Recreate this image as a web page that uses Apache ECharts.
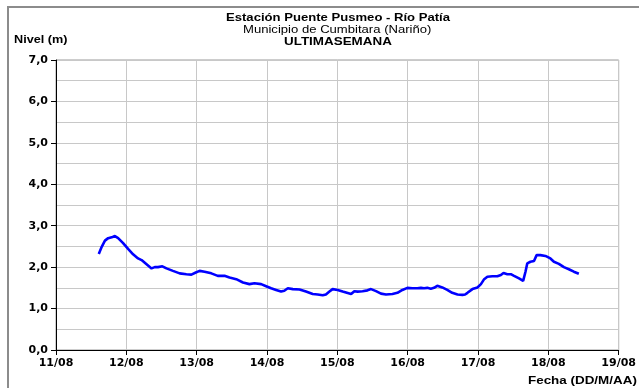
<!DOCTYPE html>
<html>
<head>
<meta charset="utf-8">
<script src="https://cdn.jsdelivr.net/npm/echarts@6/dist/echarts.min.js"></script>
<style>
  html, body { margin: 0; padding: 0; background: #fff; }
  #chart { width: 639px; height: 388px; }
</style>
</head>
<body>
<div id="chart"></div>
<script>
// Hourly-ish river level readings, Puente Pusmeo station (DD/MM HH:MM)
const times = [
  '11/08 14:36','11/08 15:36','11/08 16:42','11/08 17:48','11/08 19:18','11/08 20:06','11/08 21:12','11/08 22:54',
  '12/08 00:36','12/08 02:18','12/08 04:00','12/08 05:12','12/08 06:54','12/08 08:36','12/08 09:42','12/08 10:48',
  '12/08 12:18','12/08 13:42','12/08 15:54','12/08 18:12','12/08 20:30','12/08 22:12','12/08 23:42',
  '13/08 01:00','13/08 02:42','13/08 05:00','13/08 07:12','13/08 09:30','13/08 11:12','13/08 13:30','13/08 15:48',
  '13/08 18:00','13/08 19:42','13/08 22:00','13/08 23:42',
  '14/08 01:24','14/08 03:06','14/08 04:48','14/08 05:54','14/08 07:06','14/08 08:48','14/08 11:06','14/08 13:18',
  '14/08 15:36','14/08 17:18','14/08 19:00','14/08 20:06','14/08 21:18','14/08 22:24',
  '15/08 00:06','15/08 01:48','15/08 04:42','15/08 05:48','15/08 06:54','15/08 08:36','15/08 10:18','15/08 11:30',
  '15/08 13:12','15/08 14:54','15/08 16:36','15/08 18:48','15/08 20:30','15/08 22:12','15/08 23:54',
  '16/08 01:36','16/08 03:18','16/08 04:30','16/08 05:36','16/08 06:42','16/08 07:54','16/08 09:00','16/08 10:06',
  '16/08 11:48','16/08 13:30','16/08 15:12','16/08 17:00','16/08 18:42','16/08 19:36','16/08 20:24','16/08 22:06','16/08 23:48',
  '17/08 01:00','17/08 02:06','17/08 03:12','17/08 04:54','17/08 06:36','17/08 07:48','17/08 08:42','17/08 10:00',
  '17/08 11:12','17/08 12:18','17/08 14:00','17/08 15:24','17/08 16:12','17/08 16:48','17/08 17:54','17/08 19:06',
  '17/08 20:00','17/08 21:18','17/08 23:00',
  '18/08 00:42','18/08 01:54','18/08 03:36','18/08 05:18','18/08 07:00','18/08 08:42','18/08 10:24'
];
const nivel = [
  2.32, 2.49, 2.64, 2.70, 2.73, 2.75, 2.70, 2.58,
  2.44, 2.31, 2.21, 2.17, 2.07, 1.97, 2.00, 2.00,
  2.02, 1.97, 1.91, 1.85, 1.83, 1.82, 1.87,
  1.91, 1.89, 1.85, 1.79, 1.79, 1.75, 1.71, 1.63,
  1.59, 1.61, 1.59, 1.54,
  1.49, 1.45, 1.41, 1.43, 1.49, 1.47, 1.46, 1.41,
  1.35, 1.34, 1.32, 1.34, 1.41, 1.47,
  1.45, 1.41, 1.35, 1.42, 1.41, 1.42, 1.44, 1.47,
  1.42, 1.36, 1.34, 1.35, 1.38, 1.45, 1.50,
  1.49, 1.49, 1.50, 1.49, 1.50, 1.48, 1.50, 1.55,
  1.51, 1.45, 1.38, 1.34, 1.33, 1.34, 1.38, 1.47, 1.51,
  1.59, 1.71, 1.77, 1.78, 1.78, 1.81, 1.86, 1.83,
  1.83, 1.79, 1.73, 1.67, 1.89, 2.09, 2.13, 2.15,
  2.29, 2.29, 2.27,
  2.21, 2.13, 2.08, 2.00, 1.95, 1.89, 1.84
];
const YEAR = 2011;
const DAY = 86400000;

function toMs(s) {
  const [dm, hm] = s.split(' ');
  const [d, m] = dm.split('/').map(Number);
  const [h, mi] = hm.split(':').map(Number);
  return Date.UTC(YEAR, m - 1, d, h, mi);
}
function dayLabel(v) {
  const dt = new Date(v);
  const d = String(dt.getUTCDate()).padStart(2, '0');
  const m = String(dt.getUTCMonth() + 1).padStart(2, '0');
  return d + '/' + m;
}

const FONT = '"Liberation Sans", Arial, sans-serif';
const AXIS_FONT = '"DejaVu Sans", "Liberation Sans", sans-serif';

// Wide Arial-style caption text, stretched horizontally
function caption(text, x, y, weight, sx) {
  return {
    type: 'text', x: x, y: y, scaleX: sx, originX: 0, originY: 0,
    style: {
      text: text, font: weight + ' 11px ' + FONT, fill: '#000',
      textAlign: 'left', textVerticalAlign: 'top'
    }
  };
}

const chart = echarts.init(document.getElementById('chart'), null, { renderer: 'canvas' });

chart.setOption({
  backgroundColor: '#ffffff',
  animation: false,
  textStyle: { fontFamily: FONT },
  grid: {
    left: 56, right: 18, top: 60, bottom: 38,
    show: true, borderColor: '#9a9a9a', borderWidth: 1
  },
  graphic: [
    {
      type: 'rect', silent: true, z: 0,
      shape: { x: 8, y: 7, width: 700, height: 450 },
      style: { fill: 'none', stroke: '#8c8c8c', lineWidth: 2 }
    },
    caption('Estación Puente Pusmeo - Río Patía', 226, 12, 'bold', 1.19),
    caption('Municipio de Cumbitara (Nariño)', 243, 24, 'normal', 1.19),
    caption('ULTIMASEMANA', 284, 36, 'bold', 1.22),
    caption('Nivel (m)', 14, 34, 'bold', 1.15),
    caption('Fecha (DD/M/AA)', 528, 375, 'bold', 1.22)
  ],
  xAxis: {
    type: 'value',
    min: Date.UTC(YEAR, 7, 11),
    max: Date.UTC(YEAR, 7, 19),
    interval: DAY,
    axisLine: { show: true, onZero: false, lineStyle: { color: '#000', width: 1 } },
    axisTick: { show: true, length: 5, lineStyle: { color: '#000' } },
    axisLabel: {
      formatter: dayLabel, margin: 8, color: '#000',
      fontFamily: AXIS_FONT, fontWeight: 'bold', fontSize: 11,
      showMinLabel: true, showMaxLabel: true
    },
    splitLine: { show: true, lineStyle: { color: '#c8c8c8', width: 1 } }
  },
  yAxis: {
    type: 'value',
    min: 0, max: 7, interval: 1,
    axisLine: { show: true, lineStyle: { color: '#000', width: 1 } },
    axisTick: { show: true, length: 5, lineStyle: { color: '#000' } },
    axisLabel: {
      formatter: v => v.toFixed(1).replace('.', ','),
      margin: 8, color: '#000',
      fontFamily: AXIS_FONT, fontWeight: 'bold', fontSize: 11
    },
    splitLine: { show: true, lineStyle: { color: '#c8c8c8', width: 1 } },
    minorTick: { show: false, splitNumber: 2 },
    minorSplitLine: { show: true, lineStyle: { color: '#c8c8c8', width: 1 } }
  },
  series: [{
    type: 'line',
    data: times.map((t, i) => [toMs(t), nivel[i]]),
    showSymbol: false,
    symbol: 'none',
    lineStyle: { color: '#0000ff', width: 2.6 },
    itemStyle: { color: '#0000ff' }
  }]
});
</script>
</body>
</html>
